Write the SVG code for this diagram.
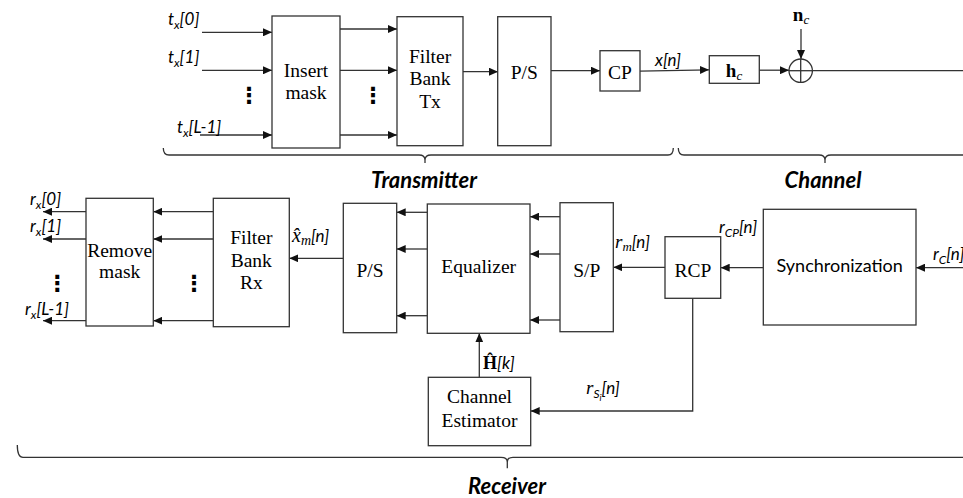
<svg xmlns="http://www.w3.org/2000/svg" width="963" height="498" viewBox="0 0 963 498">
<defs>
<style>
.box{fill:#fff;stroke:#333;stroke-width:1.3}
.ln{fill:none;stroke:#333;stroke-width:1.3}
.arr{marker-end:url(#ah)}
.tm{font-family:Liberation Serif,serif;font-size:19.5px;fill:#000;text-anchor:middle}
.lb{font-family:Lato,Liberation Sans,sans-serif;font-style:italic;font-size:17px;fill:#000}
.sub{font-size:12px}
.mi{font-family:Liberation Serif,serif;font-style:italic}
.hd{font-family:Lato,Liberation Sans,sans-serif;font-style:italic;font-weight:bold;font-size:22px;fill:#000;text-anchor:middle}
.sy{font-family:Lato,Liberation Sans,sans-serif;font-size:18px;fill:#000;text-anchor:middle}
.bs{font-family:Liberation Serif,serif;font-weight:bold;font-style:normal}
.dots{font-family:DejaVu Sans,sans-serif;font-weight:bold;font-size:22px;fill:#000;text-anchor:middle}
</style>
<marker id="ah" markerUnits="userSpaceOnUse" markerWidth="10" markerHeight="8" refX="9" refY="4" orient="auto">
<path d="M0,0 L9,4 L0,8 Z" fill="#111"/>
</marker>
</defs>
<rect width="963" height="498" fill="#fff"/>

<g id="connectors">
<line class="ln arr" x1="202" y1="32.3" x2="272" y2="32.3"/>
<line class="ln arr" x1="202" y1="70.3" x2="272" y2="70.3"/>
<line class="ln arr" x1="200" y1="135" x2="272" y2="135"/>
<line class="ln arr" x1="340" y1="29" x2="397" y2="29"/>
<line class="ln arr" x1="340" y1="70.3" x2="397" y2="70.3"/>
<line class="ln arr" x1="340" y1="135" x2="397" y2="135"/>
<line class="ln arr" x1="463" y1="71.7" x2="498" y2="71.7"/>
<line class="ln arr" x1="551" y1="70.7" x2="600" y2="70.7"/>
<line class="ln arr" x1="640" y1="71.2" x2="709" y2="69.8"/>
<line class="ln arr" x1="759" y1="70.2" x2="789" y2="70.2"/>
<line class="ln arr" x1="801" y1="29" x2="801" y2="59"/>
<line class="ln" x1="812.5" y1="70.7" x2="963" y2="70.7"/>

<line class="ln arr" x1="963" y1="267.7" x2="916" y2="267.7"/>
<line class="ln arr" x1="763.3" y1="267.7" x2="720.7" y2="267.7"/>
<line class="ln arr" x1="665" y1="267.3" x2="613.3" y2="267.3"/>
<line class="ln arr" x1="560" y1="216.7" x2="530" y2="216.7"/>
<line class="ln arr" x1="560" y1="254" x2="530" y2="254"/>
<line class="ln arr" x1="560" y1="320" x2="530" y2="320"/>
<line class="ln arr" x1="427.3" y1="212.3" x2="396.7" y2="212.3"/>
<line class="ln arr" x1="427.3" y1="249" x2="396.7" y2="249"/>
<line class="ln arr" x1="427.3" y1="315.7" x2="396.7" y2="315.7"/>
<line class="ln arr" x1="343.3" y1="258.3" x2="289.3" y2="258.3"/>
<line class="ln arr" x1="213.3" y1="211.7" x2="153.3" y2="211.7"/>
<line class="ln arr" x1="213.3" y1="239" x2="153.3" y2="239"/>
<line class="ln arr" x1="213.3" y1="320.7" x2="153.3" y2="320.7"/>
<line class="ln arr" x1="86" y1="211.7" x2="43" y2="211.7"/>
<line class="ln arr" x1="86" y1="239" x2="43" y2="239"/>
<line class="ln arr" x1="86" y1="320.7" x2="43" y2="320.7"/>
<polyline class="ln arr" points="692.7,298.3 692.7,411 530.7,411"/>
<line class="ln arr" x1="479.3" y1="377.3" x2="479.3" y2="333.3"/>
</g>

<g id="braces">
<path class="ln" d="M163.3,148 Q163.3,155 169,155 L419,155 Q425,155 425,160 L425,163 M425,160 Q425,155 431,155 L668,155 Q673.3,155 673.3,148"/>
<path class="ln" d="M678.3,148 Q678.3,155 684,155 L819,155 Q825,155 825,160 L825,163 M825,160 Q825,155 831,155 L963,155"/>
<path class="ln" d="M17.3,445 Q17.3,457.3 23,457.3 L501,457.3 Q507.3,457.3 507.3,462 L507.3,468.3 M507.3,462 Q507.3,457.3 513,457.3 L963,457.3"/>
<text class="hd" x="424" y="188">Transmitter</text>
<text class="hd" x="823" y="188">Channel</text>
<text class="hd" x="507" y="494">Receiver</text>
</g>

<g id="tx-inputs">
<text class="lb" x="168" y="25">t<tspan class="sub" dy="4">x</tspan><tspan dy="-4">[0]</tspan></text>
<text class="lb" x="168" y="63">t<tspan class="sub" dy="4">x</tspan><tspan dy="-4">[1]</tspan></text>
<text class="lb" x="177" y="133">t<tspan class="sub" dy="4">x</tspan><tspan dy="-4">[L-1]</tspan></text>
<text class="dots" x="249" y="103">⋮</text>
<text class="dots" x="373" y="103">⋮</text>
</g>

<g id="insert-mask">
<rect class="box" x="272" y="16" width="68" height="132"/>
<text class="tm" x="306" y="76.7">Insert</text>
<text class="tm" x="306" y="99">mask</text>
</g>

<g id="filter-bank-tx">
<rect class="box" x="397" y="16.7" width="66" height="129"/>
<text class="tm" x="430" y="62.5">Filter</text>
<text class="tm" x="430" y="85">Bank</text>
<text class="tm" x="430" y="107.5">Tx</text>
</g>

<g id="ps-tx">
<rect class="box" x="497.7" y="16.7" width="53.3" height="129"/>
<text class="tm" x="524.3" y="79">P/S</text>
</g>

<g id="cp">
<rect class="box" x="600" y="50.7" width="40" height="40.3"/>
<text class="tm" x="620" y="79">CP</text>
<text class="lb" x="655" y="65.7" font-size="19">x[n]</text>
</g>

<g id="hc">
<rect class="box" x="709.3" y="55.7" width="50" height="27.6"/>
<text class="tm" x="734" y="77"><tspan class="bs" font-size="19px">h</tspan><tspan class="mi" font-size="13px" dy="3">c</tspan></text>
</g>

<g id="adder">
<circle class="ln" cx="800.7" cy="70.7" r="11.7"/>
<line class="ln" x1="789" y1="70.7" x2="812.4" y2="70.7"/>
<line class="ln" x1="800.7" y1="59" x2="800.7" y2="82.4"/>
<text class="tm" x="801" y="21"><tspan class="bs" font-size="19px">n</tspan><tspan class="mi" font-size="13px" dy="3">c</tspan></text>
</g>

<g id="synchronization">
<rect class="box" x="763.3" y="209.3" width="152.7" height="115.7"/>
<text class="sy" x="839.7" y="271.7">Synchronization</text>
<text class="lb" x="933" y="260">r<tspan class="sub" dy="4">C</tspan><tspan dy="-4">[n]</tspan></text>
</g>

<g id="rcp">
<rect class="box" x="665" y="236.7" width="55.7" height="61.6"/>
<text class="tm" x="693" y="277.3">RCP</text>
<text class="lb" x="719" y="233">r<tspan class="sub" dy="4">CP</tspan><tspan dy="-4">[n]</tspan></text>
</g>

<g id="sp">
<rect class="box" x="560" y="202.7" width="53.3" height="129"/>
<text class="tm" x="586.7" y="277.3">S/P</text>
<text class="lb" x="615" y="248.3" font-size="18"><tspan class="mi" font-size="19px">r</tspan><tspan class="mi" font-size="13px" dy="3">m</tspan><tspan dy="-3">[n]</tspan></text>
</g>

<g id="equalizer">
<rect class="box" x="427.3" y="204" width="102.7" height="129.3"/>
<text class="tm" x="478.7" y="272.7">Equalizer</text>
</g>

<g id="ps-rx">
<rect class="box" x="343.3" y="203.3" width="53.4" height="129.4"/>
<text class="tm" x="370" y="276.7">P/S</text>
</g>

<g id="filter-bank-rx">
<rect class="box" x="213.3" y="198.3" width="76" height="128.4"/>
<text class="tm" x="251.3" y="244">Filter</text>
<text class="tm" x="251.3" y="266.5">Bank</text>
<text class="tm" x="251.3" y="289">Rx</text>
<text class="lb" x="292" y="242" font-size="18.5"><tspan class="mi" font-size="20px">x̂</tspan><tspan class="mi" font-size="14px" dy="3">m</tspan><tspan dy="-3">[n]</tspan></text>
<text class="dots" x="194" y="291">⋮</text>
</g>

<g id="remove-mask">
<rect class="box" x="86" y="198.3" width="67.3" height="127.7"/>
<text class="tm" x="119.7" y="257.3">Remove</text>
<text class="tm" x="119.7" y="278.3">mask</text>
<text class="lb" x="30" y="205">r<tspan class="sub" dy="4">x</tspan><tspan dy="-4">[0]</tspan></text>
<text class="lb" x="30" y="232">r<tspan class="sub" dy="4">x</tspan><tspan dy="-4">[1]</tspan></text>
<text class="lb" x="25" y="315">r<tspan class="sub" dy="4">x</tspan><tspan dy="-4">[L-1]</tspan></text>
<text class="dots" x="57.3" y="291">⋮</text>
</g>

<g id="channel-estimator">
<rect class="box" x="428.3" y="377.3" width="102.4" height="68.4"/>
<text class="tm" x="479.5" y="402.7" font-size="19">Channel</text>
<text class="tm" x="479.5" y="426.7" font-size="19">Estimator</text>
<text class="lb" x="483" y="369"><tspan class="bs" font-size="18px">Ĥ</tspan><tspan>[k]</tspan></text>
<text class="lb" x="586" y="394"><tspan class="mi" font-size="19px">r</tspan><tspan font-size="12px" dy="4">S</tspan><tspan font-size="9px" dy="3">i</tspan><tspan dy="-7">[n]</tspan></text>
</g>
</svg>
